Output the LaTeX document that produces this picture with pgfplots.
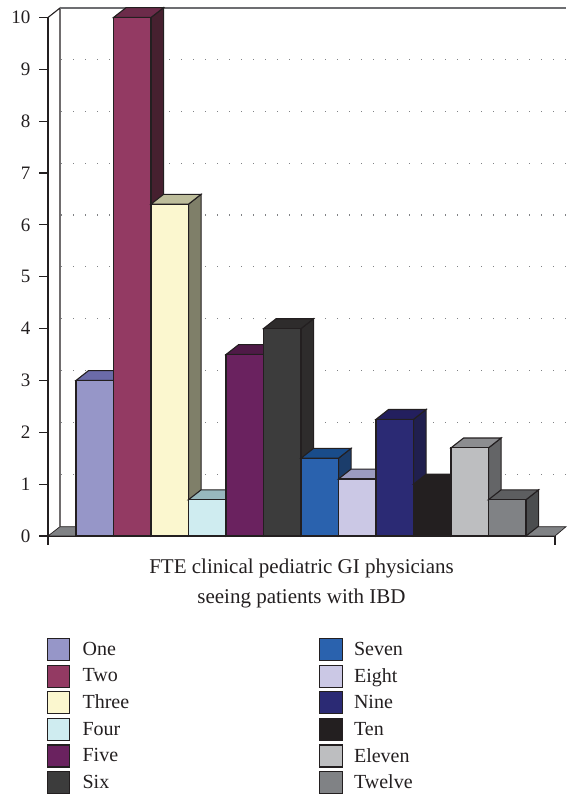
\documentclass[border=0pt]{standalone}
\usepackage{pgfplots}
\pgfplotsset{compat=1.18}
\usepackage{fontspec}
\setmainfont{Liberation Serif}
\definecolor{ink}{HTML}{231F20}
\definecolor{wallgray}{HTML}{6D6E71}
\definecolor{floorgray}{HTML}{808285}
\definecolor{dotgray}{HTML}{808285}
% front / top / side colours
\definecolor{af}{HTML}{9696C8}\definecolor{at}{HTML}{6B6BA8}\definecolor{as}{HTML}{4B4B78}
\definecolor{bf}{HTML}{933A63}\definecolor{bt}{HTML}{6C2B4A}\definecolor{bs}{HTML}{46202F}
\definecolor{cf}{HTML}{FBF7CF}\definecolor{ct}{HTML}{BDBD9B}\definecolor{cs}{HTML}{7F7F69}
\definecolor{df}{HTML}{CFECF0}\definecolor{dt}{HTML}{97B8BE}\definecolor{ds}{HTML}{6F8A8E}
\definecolor{ef}{HTML}{6A225F}\definecolor{et}{HTML}{4F1A47}\definecolor{es}{HTML}{3A1434}
\definecolor{ff}{HTML}{3C3C3C}\definecolor{ft}{HTML}{2E2C2C}\definecolor{fs}{HTML}{2E2C2C}
\definecolor{gf}{HTML}{2A62AE}\definecolor{gt}{HTML}{194C8A}\definecolor{gs}{HTML}{1B3D6B}
\definecolor{hf}{HTML}{CBC8E5}\definecolor{ht}{HTML}{9B9BC0}\definecolor{hs}{HTML}{77778F}
\definecolor{if}{HTML}{2B2A74}\definecolor{it}{HTML}{231F5E}\definecolor{is}{HTML}{201F4E}
\definecolor{jf}{HTML}{231F20}\definecolor{jt}{HTML}{231F20}\definecolor{js}{HTML}{231F20}
\definecolor{kf}{HTML}{BDBEC0}\definecolor{kt}{HTML}{8C8D90}\definecolor{ks}{HTML}{646567}
\definecolor{lf}{HTML}{808285}\definecolor{lt}{HTML}{5D5E60}\definecolor{ls}{HTML}{4B4D4F}
% one bar: #1 position, #2 value, #3 colour prefix
\newcommand{\cube}[3]{%
  \pgfmathsetmacro{\xl}{#1-0.5}\pgfmathsetmacro{\xr}{#1+0.5}%
  \pgfmathsetmacro{\xlb}{#1-0.165}\pgfmathsetmacro{\xrb}{#1+0.835}%
  \pgfmathsetmacro{\vb}{#2+0.19}%
  \addplot[fill=#3s,draw=ink,line width=1.1pt,forget plot] coordinates {(\xr,0) (\xr,#2) (\xrb,\vb) (\xrb,0.19)} --cycle;
  \addplot[fill=#3t,draw=ink,line width=1.1pt,forget plot] coordinates {(\xl,#2) (\xlb,\vb) (\xrb,\vb) (\xr,#2)} --cycle;
  \addplot[ybar,bar width=1,bar shift=0pt,fill=#3f,draw=ink,line width=1.1pt] coordinates {(#1,#2)};
}
\begin{document}
\begin{tikzpicture}[x=1pt,y=1pt]
\path[use as bounding box] (0,0) rectangle (566,795);
\begin{axis}[
  at={(48pt,259pt)},anchor=south west,
  scale only axis,width=507pt,height=518.5pt,
  xmin=-0.2467,xmax=13.273,ymin=0,ymax=10,
  clip=false,
  axis x line=bottom,axis y line=left,
  axis line style={-,ink,line width=1.1pt},
  tick style={ink,line width=1.1pt},
  tick align=outside,
  major tick length=9pt,
  xtick={-0.2467,13.273},xticklabels={},
  ytick={0,1,2,3,4,5,6,7,8,9,10},
  /pgf/number format/assume math mode=true,
  tick label style={font=\fontsize{19}{22}\selectfont,text=ink},
  y tick label style={xshift=-5pt},
  xlabel={FTE clinical pediatric GI physicians\\[8pt]seeing patients with IBD},
  xlabel style={align=center,font=\fontsize{21}{22}\selectfont,text=ink,at={(axis description cs:0.5,0)},anchor=north,yshift=-19pt},
  legend columns=6,transpose legend,
  legend cell align=left,
  legend image code/.code={\draw[#1] (0pt,-11pt) rectangle (22.5pt,11pt);},
  legend style={at={(axis cs:-0.2467,0)},anchor=north west,xshift=-1.2pt,yshift=-102pt,
    draw=none,fill=none,inner sep=0pt,outer sep=0pt,
    font=\fontsize{20}{22}\selectfont,text=ink,
    /tikz/row sep=3.5pt,
    /tikz/column 1/.style={column sep=10.2pt},
    /tikz/column 2/.style={column sep=188pt},
    /tikz/column 3/.style={column sep=9.2pt},
    /tikz/column 4/.style={column sep=0pt}},
]
% walls and floor
\addplot[fill=floorgray,draw=ink,line width=0.7pt,forget plot] coordinates {(-0.2467,0) (0.0733,0.18) (13.567,0.18) (13.273,0)} --cycle;
\addplot[ink,line width=1.1pt,forget plot] coordinates {(-0.2467,10) (0.0733,10.183) (0.0733,0.18)};
\addplot[wallgray,line width=1.2pt,forget plot] coordinates {(0.0733,10.183) (13.567,10.183)};
\addplot[dotgray,line width=1.2pt,dash pattern=on 1.2pt off 10.8pt,forget plot] coordinates {(0.10,1.19) (13.567,1.19)};
\addplot[dotgray,line width=1.2pt,dash pattern=on 1.2pt off 10.8pt,forget plot] coordinates {(0.10,2.19) (13.567,2.19)};
\addplot[dotgray,line width=1.2pt,dash pattern=on 1.2pt off 10.8pt,forget plot] coordinates {(0.10,3.19) (13.567,3.19)};
\addplot[dotgray,line width=1.2pt,dash pattern=on 1.2pt off 10.8pt,forget plot] coordinates {(0.10,4.19) (13.567,4.19)};
\addplot[dotgray,line width=1.2pt,dash pattern=on 1.2pt off 10.8pt,forget plot] coordinates {(0.10,5.19) (13.567,5.19)};
\addplot[dotgray,line width=1.2pt,dash pattern=on 1.2pt off 10.8pt,forget plot] coordinates {(0.10,6.19) (13.567,6.19)};
\addplot[dotgray,line width=1.2pt,dash pattern=on 1.2pt off 10.8pt,forget plot] coordinates {(0.10,7.19) (13.567,7.19)};
\addplot[dotgray,line width=1.2pt,dash pattern=on 1.2pt off 10.8pt,forget plot] coordinates {(0.10,8.19) (13.567,8.19)};
\addplot[dotgray,line width=1.2pt,dash pattern=on 1.2pt off 10.8pt,forget plot] coordinates {(0.10,9.19) (13.567,9.19)};
% bars
\cube{1}{3}{a}
\cube{2}{10}{b}
\cube{3}{6.4}{c}
\cube{4}{0.7}{d}
\cube{5}{3.5}{e}
\cube{6}{4}{f}
\cube{7}{1.5}{g}
\cube{8}{1.1}{h}
\cube{9}{2.25}{i}
\cube{10}{1}{j}
\cube{11}{1.7}{k}
\cube{12}{0.7}{l}
\legend{One,Two,Three,Four,Five,Six,Seven,Eight,Nine,Ten,Eleven,Twelve}
\end{axis}
\end{tikzpicture}
\end{document}
